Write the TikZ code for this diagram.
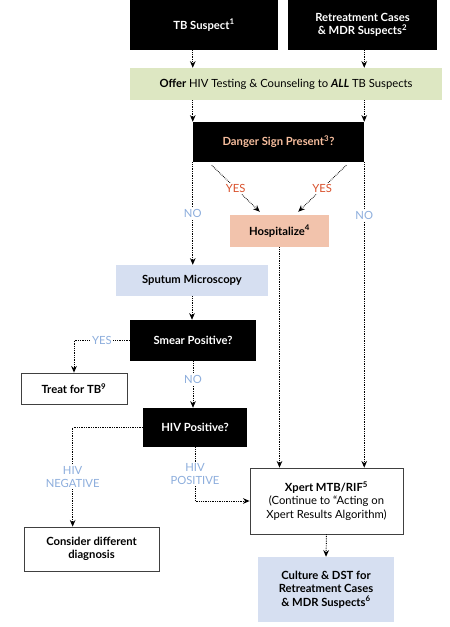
\documentclass[tikz,border=0pt]{standalone}
\usepackage{fontspec}
\setmainfont{Lato}
\usepackage{xcolor}
\usepackage{tikz}
\usetikzlibrary{arrows.meta,positioning,calc}
\definecolor{green2}{HTML}{DDE7C2}
\definecolor{salmon2}{HTML}{F2C3AC}
\definecolor{blue2}{HTML}{D6DFF1}
\definecolor{yes2}{HTML}{D9512C}
\definecolor{no2}{HTML}{8DAEDD}
\definecolor{danger2}{HTML}{F7BE9E}

\begin{document}
\begin{tikzpicture}[x=0.03cm,y=-0.03cm,
        font=\fontsize{9.6}{11.5}\selectfont,
        blkbox/.style={fill=black,text=white,font=\fontsize{9.6}{11.5}\selectfont\bfseries,
                       align=center,inner sep=2pt},
        grnbox/.style={fill=green2,align=center,inner sep=2pt},
        hspbox/.style={fill=salmon2,font=\fontsize{9.6}{11.5}\selectfont\bfseries,align=center,inner sep=2pt},
        blubox/.style={fill=blue2,font=\fontsize{9.6}{11.5}\selectfont\bfseries,align=center,inner sep=2pt},
        whtbox/.style={draw=black!75,line width=0.6pt,fill=white,align=center,inner sep=2pt},
        arr/.style={-{Stealth[length=2mm,width=1.7mm]}, line width=0.8pt, dash pattern=on 0.6pt off 0.9pt},
        nolbl/.style={fill=white,text=no2,inner sep=1.5pt,align=center,font=\fontsize{9.6}{10.5}\selectfont},
        yeslbl/.style={fill=white,text=yes2,inner sep=1.5pt,font=\fontsize{9.6}{10.5}\selectfont}
    ]
      \useasboundingbox (0,0) rectangle (449,627);
      % suspects
      \node[blkbox, minimum width=4.44cm, minimum height=1.5cm] (tbs) at (204,25) {TB Suspect\textsuperscript{1}};
      \node[blkbox, minimum width=4.47cm, minimum height=1.5cm] (rtc) at (362.5,25) {Retreatment Cases\\ \& MDR Suspects\textsuperscript{2}};
      \node[grnbox, minimum width=9.36cm, minimum height=0.96cm] (offer) at (286,84)
        {\textbf{Offer} HIV Testing \& Counseling to \textbf{\textit{ALL}} TB Suspects};
      \node[blkbox, text=danger2, minimum width=5.13cm, minimum height=1.2cm] (danger) at (278.5,142) {Danger Sign Present\textsuperscript{3}?};
      \node[hspbox, minimum width=2.97cm, minimum height=0.96cm] (hosp) at (279.5,231) {Hospitalize\textsuperscript{4}};
      % microscopy branch
      \node[blubox, minimum width=4.56cm, minimum height=0.93cm] (sputum) at (192,280.5) {Sputum Microscopy};
      \node[blkbox, minimum width=3.78cm, minimum height=1.23cm] (smear) at (193,340.5) {Smear Positive?};
      \node[whtbox, font=\fontsize{9.6}{11.5}\selectfont\bfseries, minimum width=3.18cm, minimum height=0.93cm] (treat) at (74,388.5) {Treat for TB\textsuperscript{9}};
      \node[blkbox, minimum width=3.12cm, minimum height=1.17cm] (hiv) at (195,427.5) {HIV Positive?};
      \node[whtbox, font=\fontsize{9.6}{11.5}\selectfont\bfseries, minimum width=4.05cm, minimum height=1.32cm] (consider) at (91.5,549) {Consider different\\diagnosis};
      % xpert
      \node[whtbox, minimum width=4.59cm, minimum height=1.98cm] (xpert) at (326.5,501)
        {\textbf{Xpert MTB/RIF\textsuperscript{5}}\\(Continue to “Acting on\\Xpert Results Algorithm)};
      \node[blubox, minimum width=4.08cm, minimum height=1.95cm] (culture) at (326,589.5)
        {Culture \& DST for\\Retreatment Cases\\\& MDR Suspects\textsuperscript{6}};
      \coordinate (cn) at ($(consider.north west)+(49,0)$);

      \draw[arr] (tbs.south -| danger.west) -- (offer.north -| danger.west);
      \draw[arr] (rtc.south -| danger.east) -- (offer.north -| danger.east);
      \draw[arr] (offer.south -| danger.west) -- (danger.north west);
      \draw[arr] (offer.south -| danger.east) -- (danger.north east);
      \draw[arr] (danger.south west) -- node[nolbl]{NO} (danger.south west |- sputum.north);
      \draw[arr] (danger.south east) -- node[nolbl, pos=0.173]{NO} (danger.south east |- xpert.north);
      \draw[arr] ($(danger.south west)+(19,3)$) -- node[yeslbl]{YES} ($(hosp.north west)+(30,-3)$);
      \draw[arr] ($(danger.south east)+(-18,3)$) -- node[yeslbl]{YES} ($(hosp.north east)+(-31,-3)$);
      \draw[arr] (hosp.south) -- (hosp.south |- xpert.north);
      \draw[arr] (sputum.south) -- (sputum.south |- smear.north);
      \draw[arr] (smear.west) -- node[nolbl]{YES} (smear.west -| treat.north) -- (treat.north);
      \draw[arr] (smear.south) -- node[nolbl, pos=0.4]{NO} (smear.south |- hiv.north);
      \draw[arr] (hiv.west) -- (hiv.west -| cn) -- node[nolbl]{HIV\\NEGATIVE} (cn);
      \draw[arr] (hiv.south) -- node[nolbl]{HIV\\POSITIVE} (hiv.south |- xpert.west) -- (xpert.west);
      \draw[arr] (xpert.south) -- (culture.north);
    \end{tikzpicture}
\end{document}
